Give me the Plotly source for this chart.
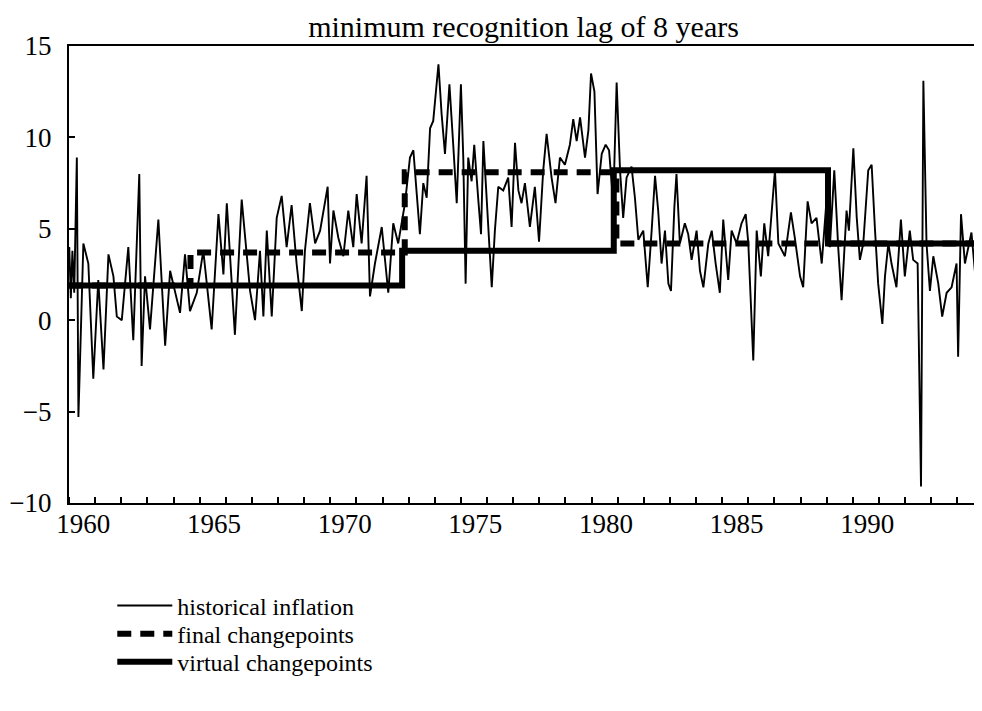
"""Inflation with changepoint levels - minimum recognition lag of 8 years."""
import plotly.graph_objects as go

# historical inflation
dates = [1959.46, 1959.52, 1959.58, 1959.65, 1959.75, 1959.81, 1960.0, 1960.19, 1960.38, 1960.57,
         1960.77, 1960.96, 1961.15, 1961.28, 1961.47, 1961.72, 1961.91, 1962.14, 1962.23, 1962.36,
         1962.55, 1962.87, 1963.13, 1963.32, 1963.7, 1963.89, 1964.08, 1964.34, 1964.59, 1964.91,
         1965.17, 1965.36, 1965.49, 1965.8, 1966.06, 1966.38, 1966.57, 1966.76, 1966.89, 1967.02,
         1967.21, 1967.4, 1967.59, 1967.78, 1967.97, 1968.16, 1968.36, 1968.48, 1968.67, 1968.87,
         1969.06, 1969.35, 1969.44, 1969.57, 1969.76, 1969.95, 1970.14, 1970.33, 1970.46, 1970.65,
         1970.84, 1970.97, 1971.16, 1971.42, 1971.67, 1971.86, 1972.05, 1972.31, 1972.5, 1972.63,
         1972.76, 1972.88, 1973.01, 1973.14, 1973.27, 1973.39, 1973.59, 1973.71, 1973.84, 1974.01,
         1974.16, 1974.29, 1974.45, 1974.54, 1974.63, 1974.73, 1974.86, 1974.96, 1975.12, 1975.22,
         1975.31, 1975.5, 1975.63, 1975.75, 1975.88, 1976.07, 1976.26, 1976.39, 1976.52, 1976.65,
         1976.77, 1976.9, 1977.09, 1977.28, 1977.44, 1977.6, 1977.73, 1977.92, 1978.07, 1978.24,
         1978.43, 1978.62, 1978.75, 1978.88, 1979.01, 1979.2, 1979.33, 1979.43, 1979.56, 1979.68,
         1979.84, 1979.99, 1980.12, 1980.28, 1980.41, 1980.54, 1980.66, 1980.79, 1980.98, 1981.11,
         1981.24, 1981.43, 1981.6, 1981.75, 1981.88, 1982.0, 1982.13, 1982.26, 1982.39, 1982.49,
         1982.62, 1982.7, 1982.83, 1983.02, 1983.15, 1983.28, 1983.47, 1983.6, 1983.73, 1983.92,
         1984.05, 1984.2, 1984.36, 1984.49, 1984.68, 1984.81, 1985.0, 1985.19, 1985.35, 1985.45,
         1985.64, 1985.77, 1985.93, 1986.06, 1986.21, 1986.47, 1986.6, 1986.85, 1987.08, 1987.23,
         1987.43, 1987.55, 1987.72, 1987.87, 1988.06, 1988.26, 1988.45, 1988.57, 1988.74, 1988.89,
         1989.02, 1989.21, 1989.3, 1989.47, 1989.6, 1989.72, 1989.85, 1990.04, 1990.17, 1990.3,
         1990.42, 1990.58, 1990.68, 1990.81, 1990.93, 1991.12, 1991.29, 1991.44, 1991.63, 1991.76,
         1991.93, 1992.06, 1992.15, 1992.27, 1992.4, 1992.53, 1992.72, 1992.87, 1993.04, 1993.23,
         1993.42, 1993.48, 1993.59, 1993.74, 1993.99, 1994.12, 1994.31, 1994.44, 1994.57, 1994.7]
inflation = [4.0, 1.2, 3.8, 1.5, 8.9, -5.3, 4.2, 3.1, -3.2, 2.2,
             -2.7, 3.6, 2.4, 0.2, 0.0, 4.0, -1.1, 8.0, -2.5, 2.4,
             -0.5, 5.5, -1.4, 2.7, 0.4, 3.6, 0.5, 1.5, 3.8, -0.5,
             5.8, 2.5, 6.4, -0.8, 6.6, 1.6, 0.0, 3.8, 0.2, 4.9,
             0.2, 5.6, 6.8, 4.0, 6.3, 3.1, 0.5, 3.8, 6.4, 4.2,
             4.9, 7.3, 3.1, 6.0, 4.5, 3.5, 6.0, 4.0, 6.9, 4.2,
             7.9, 1.3, 3.1, 5.1, 1.5, 5.3, 4.2, 6.4, 8.9, 9.3,
             6.9, 4.7, 7.5, 6.7, 10.5, 10.9, 14.0, 11.3, 9.1, 12.9,
             9.5, 6.4, 12.9, 8.9, 2.0, 8.9, 7.6, 9.6, 6.5, 4.7,
             9.8, 4.9, 1.8, 4.9, 7.3, 7.1, 7.8, 5.1, 9.7, 7.1,
             6.4, 7.5, 5.1, 7.3, 4.3, 8.2, 10.2, 7.8, 6.4, 8.9,
             8.5, 9.6, 11.0, 9.8, 11.1, 8.9, 10.4, 13.5, 12.5, 6.9,
             9.1, 9.6, 9.3, 6.4, 13.0, 8.2, 5.6, 7.8, 8.4, 6.7,
             4.4, 4.9, 1.8, 4.9, 7.9, 6.0, 3.1, 4.9, 2.0, 1.6,
             6.2, 8.0, 4.2, 5.3, 4.7, 3.3, 4.9, 2.7, 1.8, 4.2,
             4.9, 3.1, 1.5, 5.5, 2.2, 4.9, 4.2, 5.3, 5.8, 4.2,
             -2.2, 4.9, 2.4, 5.3, 3.5, 8.2, 4.2, 3.5, 5.9, 4.5,
             2.4, 1.8, 6.5, 5.3, 5.6, 3.1, 6.7, 4.0, 8.2, 4.0,
             1.1, 6.0, 4.9, 9.4, 5.6, 3.3, 4.2, 8.2, 8.5, 4.9,
             2.0, -0.2, 2.4, 4.2, 3.1, 1.8, 5.5, 2.4, 4.9, 3.3,
             3.1, -9.1, 13.1, 4.2, 1.6, 3.5, 2.0, 0.2, 1.5, 1.8,
             3.1, -2.0, 5.8, 3.1, 4.8, 2.7, 1.3, 1.3, 3.5, 2.0]

# regime levels: breakpoints and the mean level between them
final_breaks = [1959.45, 1964.1, 1972.3, 1980.4, 1994.7]
final_levels = [1.9, 3.7, 8.1, 4.2]
virtual_breaks = [1959.45, 1972.2, 1980.3, 1988.5, 1994.7]
virtual_levels = [1.9, 3.8, 8.2, 4.2]

year_labels = [1960, 1965, 1970, 1975, 1980, 1985, 1990]
y_ticks = [-10, -5, 0, 5, 10, 15]

FONT = "Liberation Serif"
LEG_FONT = dict(family=FONT, size=24, color="black")

fig = go.Figure()
fig.add_trace(go.Scatter(x=dates, y=inflation, mode="lines", name="historical inflation",
                         line=dict(color="black", width=1.9), legend="legend"))
fig.add_trace(go.Scatter(x=final_breaks, y=final_levels + final_levels[-1:], mode="lines",
                         name="final changepoints", line_shape="hv", legend="legend2",
                         line=dict(color="black", width=6, dash="14px,9px")))
fig.add_trace(go.Scatter(x=virtual_breaks, y=virtual_levels + virtual_levels[-1:], mode="lines",
                         name="virtual changepoints", line_shape="hv", legend="legend3",
                         line=dict(color="black", width=6)))


def legend_box(ypos):
    return dict(x=0.047, y=ypos, xanchor="left", yanchor="middle", bgcolor="rgba(0,0,0,0)",
                font=LEG_FONT, itemwidth=55)


fig.update_layout(
    width=982, height=711,
    title=dict(text="minimum recognition lag of 8 years", x=0.525, xref="container",
               xanchor="center", y=1 - 18 / 711, yanchor="middle",
               font=dict(family=FONT, size=30, color="black")),
    font=dict(family=FONT, size=27, color="black"),
    paper_bgcolor="white", plot_bgcolor="white",
    margin=dict(l=61, r=0, t=38, b=216),
    showlegend=True,
    legend=legend_box(-0.225),
    legend2=legend_box(-0.287),
    legend3=legend_box(-0.348),
    xaxis=dict(range=[1959.45, 1994.7], tickmode="array", tickvals=year_labels,
               ticks="", showgrid=False, zeroline=False, ticklabelstandoff=-4,
               showline=True, linecolor="black", linewidth=2, mirror=True,
               minor=dict(ticks="inside", tickmode="linear", tick0=1960.45, dtick=1,
                          ticklen=6, tickwidth=1.5, tickcolor="black", showgrid=False)),
    yaxis=dict(range=[-10, 15], tickmode="array", tickvals=y_ticks,
               ticks="inside", ticklen=6, tickwidth=1.5, tickcolor="black",
               showgrid=False, zeroline=False, ticklabelstandoff=10,
               showline=True, linecolor="black", linewidth=2),
)

fig.write_html("out.html")
